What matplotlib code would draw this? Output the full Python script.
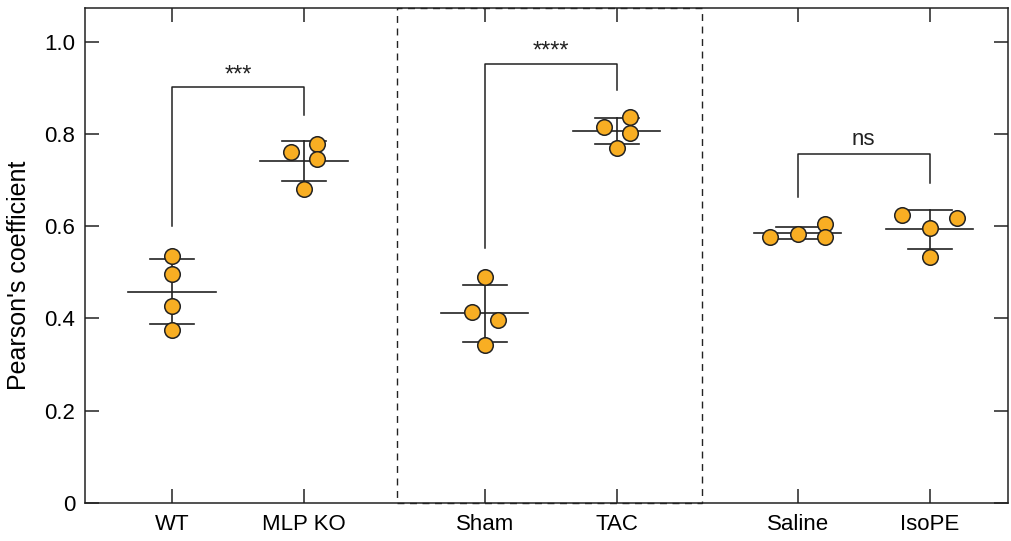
import numpy as np
import matplotlib
matplotlib.use("Agg")
import matplotlib.pyplot as plt
from matplotlib.patches import Rectangle

plt.rcParams['font.family'] = ['Liberation Sans', 'DejaVu Sans']

# group names and the individual values
groups = ['WT', 'MLP KO', 'Sham', 'TAC', 'Saline', 'IsoPE']
wt = [0.535, 0.496, 0.427, 0.375]
mlp_ko = [0.760, 0.778, 0.745, 0.680]
sham = [0.490, 0.414, 0.397, 0.342]
tac = [0.815, 0.836, 0.802, 0.769]
saline = [0.576, 0.584, 0.605, 0.576]
isope = [0.624, 0.618, 0.597, 0.532]

# horizontal spread of points inside each group (swarm layout)
spread = [
    [0, 0, 0, 0],
    [-0.1, 0.1, 0.1, 0],
    [0, -0.1, 0.1, 0],
    [-0.1, 0.1, 0.1, 0],
    [-0.21, 0, 0.21, 0.21],
    [-0.21, 0.21, 0, 0],
]

# significance brackets: (group a, group b, top, left foot, right foot, label)
brackets = [
    (0, 1, 0.901, 0.600, 0.840, '***'),
    (2, 3, 0.952, 0.553, 0.895, '****'),
    (4, 5, 0.756, 0.663, 0.693, 'ns'),
]

yticks = [0, 0.2, 0.4, 0.6, 0.8, 1.0]
ytick_labels = ['0', '0.2', '0.4', '0.6', '0.8', '1.0']

series = [wt, mlp_ko, sham, tac, saline, isope]
gap = 0.37
xpos = [0, 1, 2 + gap, 3 + gap, 4 + 2 * gap, 5 + 2 * gap]

dark = '#222222'
orange = '#F8AE23'

fig = plt.figure(figsize=(10.12, 5.41), dpi=100)
ax = fig.add_axes([0.084, 0.0702, 0.912, 0.915])

for x, vals, offs in zip(xpos, series, spread):
    vals = np.array(vals)
    m = vals.mean()
    sd = vals.std(ddof=1)
    ax.plot([x - 0.33, x + 0.33], [m, m], color=dark, lw=1.2, zorder=2)
    ax.plot([x - 0.167, x + 0.167], [m + sd, m + sd], color=dark, lw=1.2, zorder=2)
    ax.plot([x - 0.167, x + 0.167], [m - sd, m - sd], color=dark, lw=1.2, zorder=2)
    ax.plot([x, x], [m - sd, m + sd], color=dark, lw=1.2, zorder=2)
    ax.scatter(x + np.array(offs), vals, s=125, color=orange,
               edgecolor=dark, linewidth=1.1, zorder=3)

for a, b, top, lf, rf, lab in brackets:
    xa, xb = xpos[a], xpos[b]
    ax.plot([xa, xa, xb, xb], [lf, top, top, rf], color=dark, lw=1.1)
    if lab == 'ns':
        ax.text((xa + xb) / 2, top + 0.01, lab, ha='center', va='bottom',
                fontsize=16, color=dark)
    else:
        ax.text((xa + xb) / 2, top + 0.002, lab, ha='center', va='bottom',
                fontsize=17, color=dark)

ax.set_xlim(-0.659, 6.333)
ax.set_ylim(0, 1.0726)

# dashed box around the middle pair
x0 = (xpos[1] + xpos[2]) / 2 + 0.02
x1 = (xpos[3] + xpos[4]) / 2 - 0.04
ax.add_patch(Rectangle((x0, 0), x1 - x0, 1.0726, fill=False, ec=dark,
                       lw=1.0, ls=(0, (5, 4)), clip_on=False, zorder=4))

ax.set_xticks(xpos)
ax.set_xticklabels(groups, fontsize=16)
ax.set_yticks(yticks)
ax.set_yticklabels(ytick_labels, fontsize=16)
ax.tick_params(direction='in', length=10, width=1.1, color=dark,
               top=True, right=True, pad=7)
ax.tick_params(axis='x', pad=8)
ax.set_ylabel("Pearson's coefficient", fontsize=18, va='center')
ax.yaxis.set_label_coords(-0.071, 0.46)

for sp in ax.spines.values():
    sp.set_linewidth(1.1)
    sp.set_color(dark)

fig.savefig('out.png', dpi=100)
